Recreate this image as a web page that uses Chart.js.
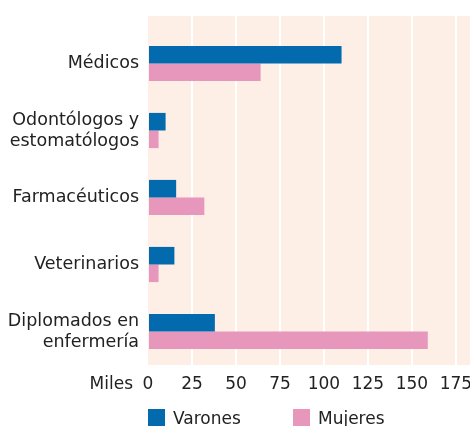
<!DOCTYPE html>
<html>
<head>
<meta charset="utf-8">
<script src="https://cdn.jsdelivr.net/npm/chart.js@4"></script>
<style>
  html, body { margin: 0; padding: 0; background: #fff; }
  #wrap { width: 470px; height: 426px; }
</style>
</head>
<body>
<div id="wrap"><canvas id="chart" width="470" height="426"></canvas></div>
<script>
// data (thousands)
const categories = [["Médicos"], ["Odontólogos y", "estomatólogos"], ["Farmacéuticos"], ["Veterinarios"], ["Diplomados en", "enfermería"]];
const seriesNames = ["Varones", "Mujeres"];
const varones = [110, 10, 16, 15, 38];
const mujeres = [64, 6, 32, 6, 159];
const xTicks = [0, 25, 50, 75, 100, 125, 150, 175];
const unitLabel = "Miles";

const FONT = "'DejaVu Sans', sans-serif";
const TEXT = "#222";
const BG = "#fdeee6";

// pink panel behind the plot, a bit taller than the bar area
const panelPlugin = {
  id: "panel",
  beforeDraw(chart) {
    const { ctx, chartArea } = chart;
    const top = chartArea.top - 14;
    ctx.save();
    ctx.fillStyle = BG;
    ctx.fillRect(chartArea.left, top, chart.width - chartArea.left, chartArea.bottom - top);
    // continue the white grid into the top strip
    const x = chart.scales.x;
    ctx.fillStyle = "#fff";
    x.ticks.forEach(t => {
      if (t.value === 0) return;
      const px = Math.round(x.getPixelForValue(t.value));
      ctx.fillRect(px - 1, top, 2, chartArea.top - top);
    });
    ctx.restore();
  }
};

// "Miles" before the tick row and the legend below
const extrasPlugin = {
  id: "extras",
  afterDraw(chart) {
    const { ctx, chartArea } = chart;
    ctx.save();
    ctx.font = "17px " + FONT;
    ctx.fillStyle = TEXT;
    ctx.textAlign = "right";
    ctx.textBaseline = "middle";
    ctx.fillText(unitLabel, chartArea.left - 15, chartArea.bottom + 20);

    const starts = [chartArea.left, chartArea.left + 145];
    chart.data.datasets.forEach((ds, i) => {
      const x0 = starts[i];
      ctx.fillStyle = ds.backgroundColor;
      ctx.fillRect(x0, 409, 17, 17);
      ctx.fillStyle = TEXT;
      ctx.textAlign = "left";
      ctx.textBaseline = "alphabetic";
      ctx.fillText(ds.label, x0 + 25, 424);
    });
    ctx.restore();
  }
};

new Chart(document.getElementById("chart"), {
  type: "bar",
  data: {
    labels: categories,
    datasets: [
      { label: seriesNames[0], data: varones, backgroundColor: "#036aad" },
      { label: seriesNames[1], data: mujeres, backgroundColor: "#e697bb" }
    ]
  },
  options: {
    indexAxis: "y",
    responsive: false,
    animation: false,
    layout: { padding: { top: 30, bottom: 31, right: 0, left: 0 } },
    datasets: {
      bar: { barPercentage: 1, categoryPercentage: 0.525, borderWidth: 0 }
    },
    plugins: {
      legend: { display: false },
      tooltip: { enabled: false }
    },
    scales: {
      x: {
        min: 0,
        max: 183,
        afterFit: s => { s.height = 30; s.paddingLeft = 0; s.paddingRight = 0; },
        afterBuildTicks: s => { s.ticks = xTicks.map(v => ({ value: v })); },
        ticks: {
          includeBounds: false,
          padding: 9,
          color: TEXT,
          font: { family: FONT, size: 17 }
        },
        grid: {
          drawTicks: false,
          lineWidth: 2,
          color: c => (c.tick && c.tick.value === 0) ? "rgba(0,0,0,0)" : "#fff"
        },
        border: { display: false }
      },
      y: {
        afterFit: s => { s.width = 148; s.paddingTop = 0; s.paddingBottom = 0; },
        ticks: {
          padding: 9,
          color: TEXT,
          font: { family: FONT, size: 17.5, lineHeight: 1.2 }
        },
        grid: { display: false, drawTicks: false },
        border: { display: false }
      }
    }
  },
  plugins: [panelPlugin, extrasPlugin]
});
</script>
</body>
</html>
